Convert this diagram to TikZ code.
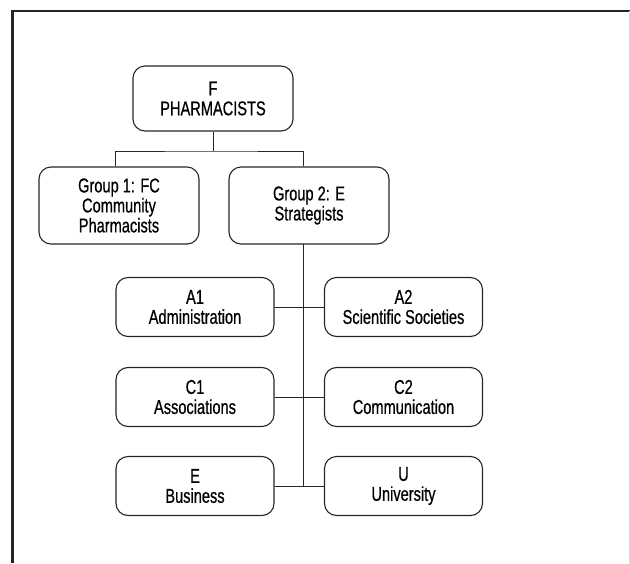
\documentclass[tikz,border=0pt]{standalone}
\usepackage{fontspec}
\setmainfont{Liberation Sans}[FakeStretch=0.73,FakeBold=0.6]
\usetikzlibrary{positioning}

\tikzset{
  unit/.style={draw=black!85, line width=1.1pt, rounded corners=12pt, align=center,
    inner sep=0pt, font=\fontsize{20}{20}\selectfont},
  toprole/.style={unit, minimum width=160pt, minimum height=65pt},
  grouprole/.style={unit, minimum width=160pt, minimum height=77pt},
  subrole/.style={unit, minimum width=158pt, minimum height=59pt},
  link/.style={draw=black!85, line width=0.9pt}
}

\begin{document}
\begin{tikzpicture}[x=1pt,y=-1pt]
\useasboundingbox (0,0) rectangle (630,563);

% frame
\draw[black!85, line width=2.6pt] (12.5,563) -- (12.5,11) -- (630,11);
\draw[black!15, line width=0.8pt] (629,11) -- (629,563);

% top
\node[toprole] (f) at (213,98.5) {F\\PHARMACISTS};

% groups
\node[grouprole] (g1) at (119,205.5) {Group 1: FC\\Community\\Pharmacists};
\node[grouprole] (g2) at (309,205.5) {Group 2: E\\Strategists};

% sub units
\node[subrole] (a1) at (195,307) {A1\\Administration};
\node[subrole] (a2) at (403.5,307) {A2\\Scientific Societies};
\node[subrole] (c1) at (195,397) {C1\\Associations};
\node[subrole] (c2) at (403.5,397) {C2\\Communication};
\node[subrole] (e) at (195,486) {E\\Business};
\node[subrole] (u) at (403.5,486) {U\\University};

\coordinate (bar) at (213,151);
\coordinate (trunk) at (303,244);

\draw[link] (f) -- (bar);
\draw[link] ([xshift=-4pt]g1.north) |- (bar) -| ([xshift=-6pt]g2.north);
\draw[link] (trunk) -- (trunk |- e);
\draw[link] (a1) -- (a2);
\draw[link] (c1) -- (c2);
\draw[link] (e) -- (u);
\end{tikzpicture}
\end{document}
